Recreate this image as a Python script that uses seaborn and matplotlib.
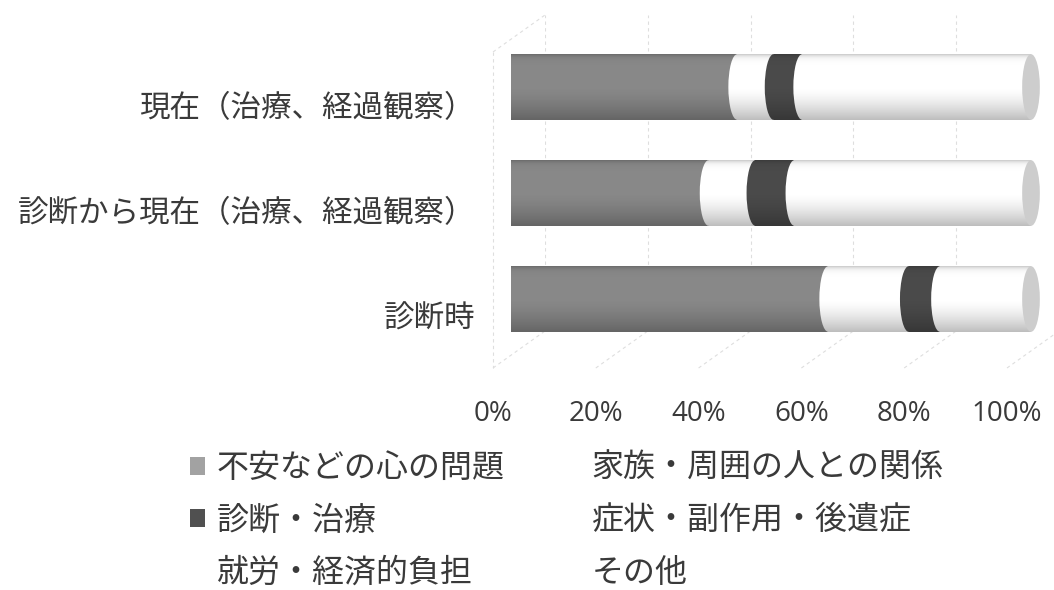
import numpy as np
import pandas as pd
import matplotlib
matplotlib.use("Agg")
import matplotlib.pyplot as plt
import seaborn as sns
from matplotlib.patches import Ellipse, Patch
from matplotlib.lines import Line2D
from matplotlib.ticker import PercentFormatter

# ---- data (percent of respondents) ----
categories = ["現在（治療、経過観察）", "診断から現在（治療、経過観察）", "診断時"]
series_names = ["不安などの心の問題", "家族・周囲の人との関係", "診断・治療",
                "症状・副作用・後遺症", "就労・経済的負担", "その他"]
anxiety = [43.5, 38.0, 61.0]
family = [7.0, 9.0, 15.5]
diagnosis = [5.5, 7.5, 6.0]
symptoms = [29.5, 30.5, 11.0]
work = [8.0, 8.0, 3.5]
other = [6.5, 7.0, 3.0]
tick_values = [0, 20, 40, 60, 80, 100]

series_values = [anxiety, family, diagnosis, symptoms, work, other]
series_colors = ["#888888", "#ffffff", "#4a4a4a", "#ffffff", "#ffffff", "#ffffff"]
legend_colors = ["#a2a2a2", "#ffffff", "#505050", "#ffffff", "#ffffff", "#ffffff"]
text_color = "#3a3a3a"

sns.set_theme(style="white")
plt.rcParams["font.family"] = ["Noto Sans CJK JP", "DejaVu Sans"]
plt.rcParams["text.color"] = text_color

W, H = 1054, 590
fig = plt.figure(figsize=(W / 100, H / 100), dpi=100)
fig.patch.set_facecolor("white")


def axes_px(x0, top, w, h, z):
    ax = fig.add_axes([x0 / W, 1 - (top + h) / H, w / W, h / H])
    ax.set_zorder(z)
    ax.patch.set_alpha(0)
    for s in ax.spines.values():
        s.set_visible(False)
    return ax


grid_kw = dict(color="#dedede", lw=0.8, ls=(0, (3, 3)))

# back wall of the 3-D box
ax_back = axes_px(545, 15, 514, 316, 0)
ax_back.set_xlim(0, 100)
ax_back.set_ylim(2.5, -0.5)
for v in tick_values:
    ax_back.axvline(v, **grid_kw)
ax_back.set_xticks([])
ax_back.set_yticks([])

# front plane: carries the axis labels
ax_front = axes_px(493, 52, 514, 316, 1)
ax_front.set_xlim(0, 100)
ax_front.set_ylim(2.5, -0.5)
ax_front.set_xticks(tick_values)
ax_front.xaxis.set_major_formatter(PercentFormatter(100, decimals=0))
ax_front.set_yticks(range(len(categories)))
ax_front.set_yticklabels(categories)
ax_front.tick_params(axis="x", length=0, pad=23, labelsize=20, labelcolor=text_color)
ax_front.tick_params(axis="y", length=0, pad=13, labelsize=22, labelcolor=text_color)
for t in ax_front.get_xticklabels():
    t.set_fontfamily(["Open Sans", "DejaVu Sans"])

# floor and side-wall edges joining the two planes
to_fig = fig.transFigure.inverted()


def join(p_front, p_back):
    a = to_fig.transform(ax_front.transData.transform(p_front))
    b = to_fig.transform(ax_back.transData.transform(p_back))
    fig.add_artist(Line2D([a[0], b[0]], [a[1], b[1]], transform=fig.transFigure, zorder=0.5, **grid_kw))


for v in tick_values:
    join((v, 2.5), (v, 2.5))
join((0, -0.5), (0, -0.5))
fa = to_fig.transform(ax_front.transData.transform((0, -0.5)))
fb = to_fig.transform(ax_front.transData.transform((0, 2.5)))
fig.add_artist(Line2D([fa[0], fb[0]], [fa[1], fb[1]], transform=fig.transFigure, zorder=0.5, **grid_kw))

# bars sit midway between the planes
ax_bar = axes_px(511, 34, 520, 318, 2)

cum = np.cumsum(np.array(series_values), axis=0)
df = pd.DataFrame({"category": categories})
for i in reversed(range(len(series_names))):
    df["value"] = cum[i]
    sns.barplot(data=df, x="value", y="category", orient="h", color=series_colors[i],
                saturation=1, width=0.62, linewidth=0, edgecolor="none", ax=ax_bar,
                errorbar=None)

full_bars = ax_bar.patches[:len(categories)]
cap_w = 3.4

# curved faces where one cylinder section meets the next
for j, bar in enumerate(full_bars):
    yc = bar.get_y() + bar.get_height() / 2
    hgt = bar.get_height()
    for i in range(1, len(series_names)):
        start = cum[i - 1][j]
        ax_bar.add_patch(Ellipse((start, yc), cap_w, hgt, facecolor=series_colors[i],
                                 edgecolor="none", zorder=3))
    # shading that gives the round look
    t = np.linspace(0, 1, 200)
    alpha = 0.22 * np.exp(-t / 0.04) + 0.26 * np.clip((t - 0.5) / 0.5, 0, 1) ** 1.5
    grad = np.zeros((200, 1, 4))
    grad[:, 0, 3] = alpha
    ax_bar.imshow(grad, extent=(0, 100, bar.get_y() + hgt, bar.get_y()), origin="upper",
                  aspect="auto", zorder=4, interpolation="bilinear")
    # end cap of the cylinder
    ax_bar.add_patch(Ellipse((100, yc), cap_w, hgt, facecolor="#cdcdcd",
                             edgecolor="none", zorder=5, clip_on=False))

ax_bar.set_xlim(0, 100)
ax_bar.set_ylim(2.5, -0.5)
ax_bar.set_xticks([])
ax_bar.set_yticks([])
ax_bar.set_xlabel("")
ax_bar.set_ylabel("")

# legend, filled row by row
order = [0, 2, 4, 1, 3, 5]
handles = [Patch(facecolor=legend_colors[i], edgecolor="none") for i in order]
labels = [series_names[i] for i in order]
fig.legend(handles, labels, ncol=2, loc="upper left",
           bbox_to_anchor=(190 / W, 1 - 452 / H), frameon=False, fontsize=23,
           handlelength=0.48, handleheight=0.48, handletextpad=0.35,
           columnspacing=1.9, labelspacing=0.64, borderpad=0, borderaxespad=0)

fig.savefig("out.png", dpi=100, facecolor="white")
